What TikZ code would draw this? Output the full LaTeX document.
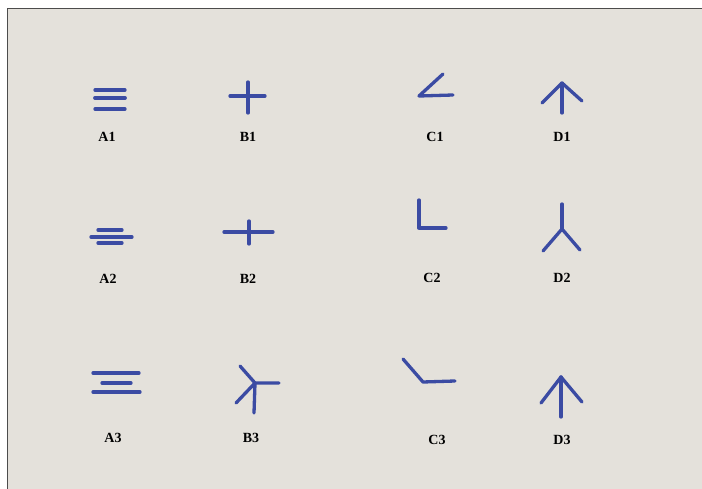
\documentclass[tikz,border=0pt]{standalone}
\usepackage{fontspec}
\setmainfont{Liberation Serif}
\definecolor{paper}{HTML}{E4E1DB}
\definecolor{ink}{HTML}{3B4BA3}

\begin{document}
\begin{tikzpicture}[x=1pt,y=-1pt,
  stroke/.style={ink,line width=3.3pt,line cap=round,line join=round},
  lbl/.style={font=\fontsize{14}{16}\selectfont\bfseries,inner sep=0pt}]
\useasboundingbox (0,0) rectangle (702,489);
\fill[white] (0,0) rectangle (702,489);
\fill[paper] (7,9) rectangle (702,489);
\draw[black!70,line width=1pt] (7,489) -- (7,9) -- (702,9);
% First row
\draw[stroke] (95,90) -- (125,90);
\draw[stroke,line width=3.8pt] (95,98) -- (125,98);
\draw[stroke] (95,109) -- (125,109);
\node[lbl] (A1) at (107,137) {A1};
\draw[stroke] (248,82) -- (248,113);
\draw[stroke] (230,96) -- (265,96);
\node[lbl] (B1) at (248,137) {B1};
\draw[stroke] (443,74) -- (419,96) -- (453,95);
\node[lbl] (C1) at (435,137) {C1};
\draw[stroke] (562,113) -- (562,83);
\draw[stroke] (542,103) -- (562,83) -- (582,101);
\node[lbl] (D1) at (562,137) {D1};
% Second row
\draw[stroke] (98,230) -- (122,230);
\draw[stroke] (91,237) -- (132,237);
\draw[stroke] (98,243) -- (122,243);
\node[lbl] (A2) at (108,279) {A2};
\draw[stroke] (224,232) -- (273,232);
\draw[stroke] (249,221) -- (249,244);
\node[lbl] (B2) at (248,279) {B2};
\draw[stroke] (419,200) -- (419,228) -- (446,228);
\node[lbl] (C2) at (432,278) {C2};
\draw[stroke] (562,204) -- (562,229);
\draw[stroke] (543,251) -- (562,229) -- (580,250);
\node[lbl] (D2) at (562,278) {D2};
% Third row
\draw[stroke] (93,373) -- (139,373);
\draw[stroke] (102,383) -- (131,383);
\draw[stroke] (93,392) -- (140,392);
\node[lbl] (A3) at (113,438) {A3};
\draw[stroke] (240,366) -- (255,383) -- (279,383);
\draw[stroke] (236,403) -- (255,383) -- (254,413);
\node[lbl] (B3) at (251,438) {B3};
\draw[stroke] (403,359) -- (423,382) -- (455,381);
\node[lbl] (C3) at (437,440) {C3};
\draw[stroke] (561,377) -- (561,417);
\draw[stroke] (541,403) -- (561,377) -- (582,402);
\node[lbl] (D3) at (562,440) {D3};
\end{tikzpicture}
\end{document}
